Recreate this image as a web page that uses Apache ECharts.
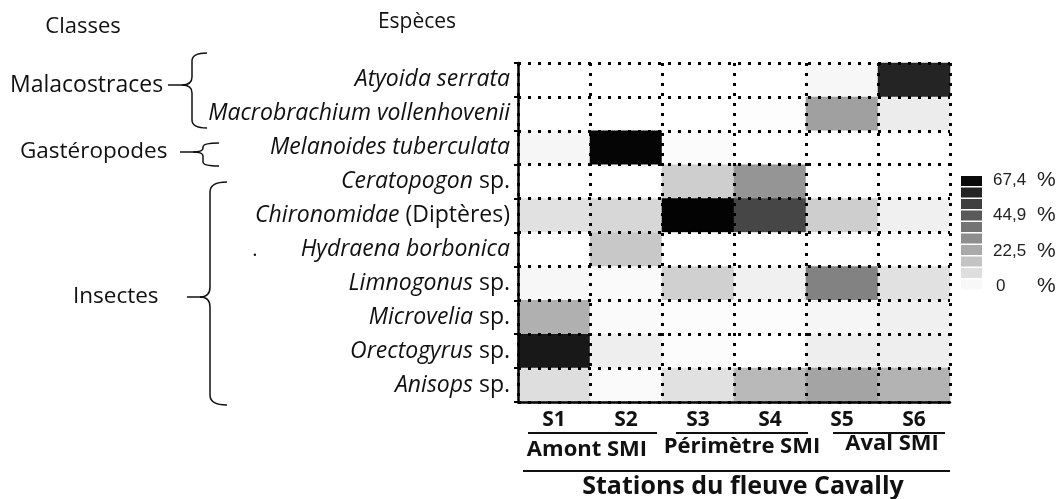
<!DOCTYPE html>
<html>
<head>
<meta charset="utf-8">
<script src="https://cdn.jsdelivr.net/npm/echarts@6/dist/echarts.min.js"></script>
<style>
  html, body { margin: 0; padding: 0; background: #fff; }
  #chart { width: 1056px; height: 499px; }
</style>
</head>
<body>
<div id="chart"></div>
<script>
// stations (columns) and species (rows, top to bottom)
var stations = ['S1', 'S2', 'S3', 'S4', 'S5', 'S6']
var species = [
  'Atyoida serrata',
  'Macrobrachium vollenhovenii',
  'Melanoides tuberculata',
  'Ceratopogon sp.',
  'Chironomidae (Diptères)',
  'Hydraena borbonica',
  'Limnogonus sp.',
  'Microvelia sp.',
  'Orectogyrus sp.',
  'Anisops sp.'
]
// relative abundance (%) per species, one value per station S1..S6
var atyoida = [0, 0, 0, 0, 2, 58]
var macrobrachium = [0, 0, 0, 0.5, 25, 5]
var melanoides = [2.5, 66, 1, 0, 0, 0]
var ceratopogon = [0, 0, 13, 28, 0, 0]
var chironomidae = [8, 10.5, 66.5, 49, 13, 4]
var hydraena = [0, 14.5, 0, 0, 0, 0]
var limnogonus = [2, 1.3, 12.5, 4, 33, 8]
var microvelia = [21, 1.3, 0.8, 0.8, 2.5, 4]
var orectogyrus = [61, 4.5, 0.8, 0, 4.5, 4.5]
var anisops = [8.7, 1.3, 8, 18.5, 24, 20]
var rows = [atyoida, macrobrachium, melanoides, ceratopogon, chironomidae,
  hydraena, limnogonus, microvelia, orectogyrus, anisops]

// scale
var scaleMax = 67.4
var scaleTicks = ['67,4', '44,9', '22,5', '0']

var cells = []
for (var r = 0; r < rows.length; r++) {
  for (var c = 0; c < stations.length; c++) {
    cells.push([c, r, rows[r][c]])
  }
}

var FONT = '"Open Sans", Lato, sans-serif'

// genus in italics, "sp." / remarks upright
function speciesLabel (name) {
  if (/ sp\.$/.test(name)) {
    return '{i|' + name.replace(/ sp\.$/, '') + '}{n| sp.}'
  }
  var k = name.indexOf(' (')
  if (k > 0) {
    return '{i|' + name.slice(0, k) + '}{n|' + name.slice(k) + '}'
  }
  return '{i|' + name + '}'
}

function txt (s, x, y, size, weight, align) {
  return {
    type: 'text',
    style: {
      text: s, x: x, y: y,
      fontSize: size, fontFamily: FONT, fontWeight: weight || 'normal',
      fill: '#111',
      align: align || 'center', verticalAlign: 'middle'
    }
  }
}
function line (x1, y1, x2, y2, w) {
  return {
    type: 'line',
    shape: {x1: x1, y1: y1, x2: x2, y2: y2},
    style: {stroke: '#111', lineWidth: w || 1.8}
  }
}
function curve (x1, y1, cx, cy, x2, y2) {
  return {
    type: 'bezierCurve',
    shape: {x1: x1, y1: y1, cpx1: cx, cpy1: cy, x2: x2, y2: y2},
    style: {stroke: '#111', lineWidth: 1.5, fill: null}
  }
}
// curly brace: vertical stem at x, from top to bottom, tip pointing left at (tipX, mid)
function brace (x, top, bottom, mid, endX, tipX, r) {
  return [
    curve(endX, top, x, top, x, top + r),
    line(x, top + r, x, mid - r, 1.5),
    curve(x, mid - r, x, mid, tipX, mid),
    curve(tipX, mid, x, mid, x, mid + r),
    line(x, mid + r, x, bottom - r, 1.5),
    curve(x, bottom - r, x, bottom, endX, bottom)
  ]
}

var dotted = {color: '#000', width: 3, type: [3, 7]}

var graphics = [
  txt('Classes', 83, 27, 22),
  txt('Espèces', 417, 22, 21),
  txt('Malacostraces', 10, 85, 23, 'normal', 'left'),
  txt('Gastéropodes', 20, 152, 22.5, 'normal', 'left'),
  txt('Insectes', 73, 297, 22.5, 'normal', 'left'),
  txt('.', 255, 250, 20),
  line(168, 85, 182, 85, 1.5),
  line(180, 152, 193, 152, 1.5),
  line(187, 297, 202, 297, 1.5),
  line(528, 433, 657, 433),
  line(676, 433, 808, 433),
  line(833, 433, 945, 433),
  txt('Amont SMI', 587, 450, 22, 'bold'),
  txt('Périmètre SMI', 742, 447, 22, 'bold'),
  txt('Aval SMI', 892, 444, 22, 'bold'),
  line(523, 471, 950, 471),
  txt('Stations du fleuve Cavally', 743, 487, 25, 'bold')
]
graphics = graphics.concat(
  brace(192, 53, 128, 85, 207, 182, 8),
  brace(203, 143, 166, 152, 219, 193, 4),
  brace(210, 182, 405, 297, 227, 200, 10)
)
for (var t = 0; t < scaleTicks.length; t++) {
  var ty = 180 + t * 35.5
  graphics.push({
    type: 'text',
    style: {
      text: scaleTicks[t], x: t === 3 ? 996 : 993, y: ty,
      fontSize: 17, fontFamily: '"Liberation Sans", Arial, sans-serif',
      fill: '#222', align: 'left', verticalAlign: 'middle'
    }
  })
  graphics.push({
    type: 'text',
    style: {
      text: '%', x: 1037, y: ty,
      fontSize: 21, fontFamily: '"Liberation Sans", Arial, sans-serif',
      fill: '#222', align: 'left', verticalAlign: 'middle'
    }
  })
}

var chart = echarts.init(document.getElementById('chart'))
chart.setOption({
  backgroundColor: '#fff',
  animation: false,
  grid: {left: 518, right: 106, top: 63, bottom: 97},
  xAxis: {
    type: 'category',
    data: stations,
    z: 5,
    axisLine: {show: true, lineStyle: {color: '#000', width: 2.5}},
    axisTick: {show: false},
    axisLabel: {
      margin: 8,
      color: '#111',
      fontSize: 21,
      fontWeight: 'bold',
      fontFamily: FONT
    },
    splitLine: {show: true, lineStyle: dotted}
  },
  yAxis: {
    type: 'category',
    data: species,
    inverse: true,
    z: 5,
    axisLine: {show: true, lineStyle: {color: '#000', width: 2.5}},
    axisTick: {show: true, length: 4, lineStyle: {color: '#000', width: 2}},
    axisLabel: {
      margin: 8,
      formatter: speciesLabel,
      rich: {
        i: {fontSize: 23, fontStyle: 'italic', fontFamily: FONT, color: '#111'},
        n: {fontSize: 23, fontFamily: FONT, color: '#111'}
      }
    },
    splitLine: {show: true, lineStyle: dotted}
  },
  visualMap: [
    {
      type: 'continuous',
      show: false,
      seriesIndex: 0,
      min: 0,
      max: scaleMax,
      inRange: {color: ['#ffffff', '#000000']}
    },
    {
      type: 'piecewise',
      seriesIndex: 1,
      min: 0,
      max: scaleMax,
      splitNumber: 10,
      left: 961,
      top: 176,
      padding: 0,
      orient: 'vertical',
      itemWidth: 21,
      itemHeight: 10,
      itemGap: 1.5,
      itemSymbol: 'rect',
      showLabel: false,
      textStyle: {fontSize: 8},
      hoverLink: false,
      selectedMode: false,
      inRange: {color: ['#f8f8f8', '#0a0a0a']}
    }
  ],
  series: [
    {
      type: 'heatmap',
      data: cells,
      itemStyle: {borderWidth: 0},
      emphasis: {disabled: true}
    },
    {
      type: 'heatmap',
      data: []
    }
  ],
  graphic: graphics
})
</script>
</body>
</html>
